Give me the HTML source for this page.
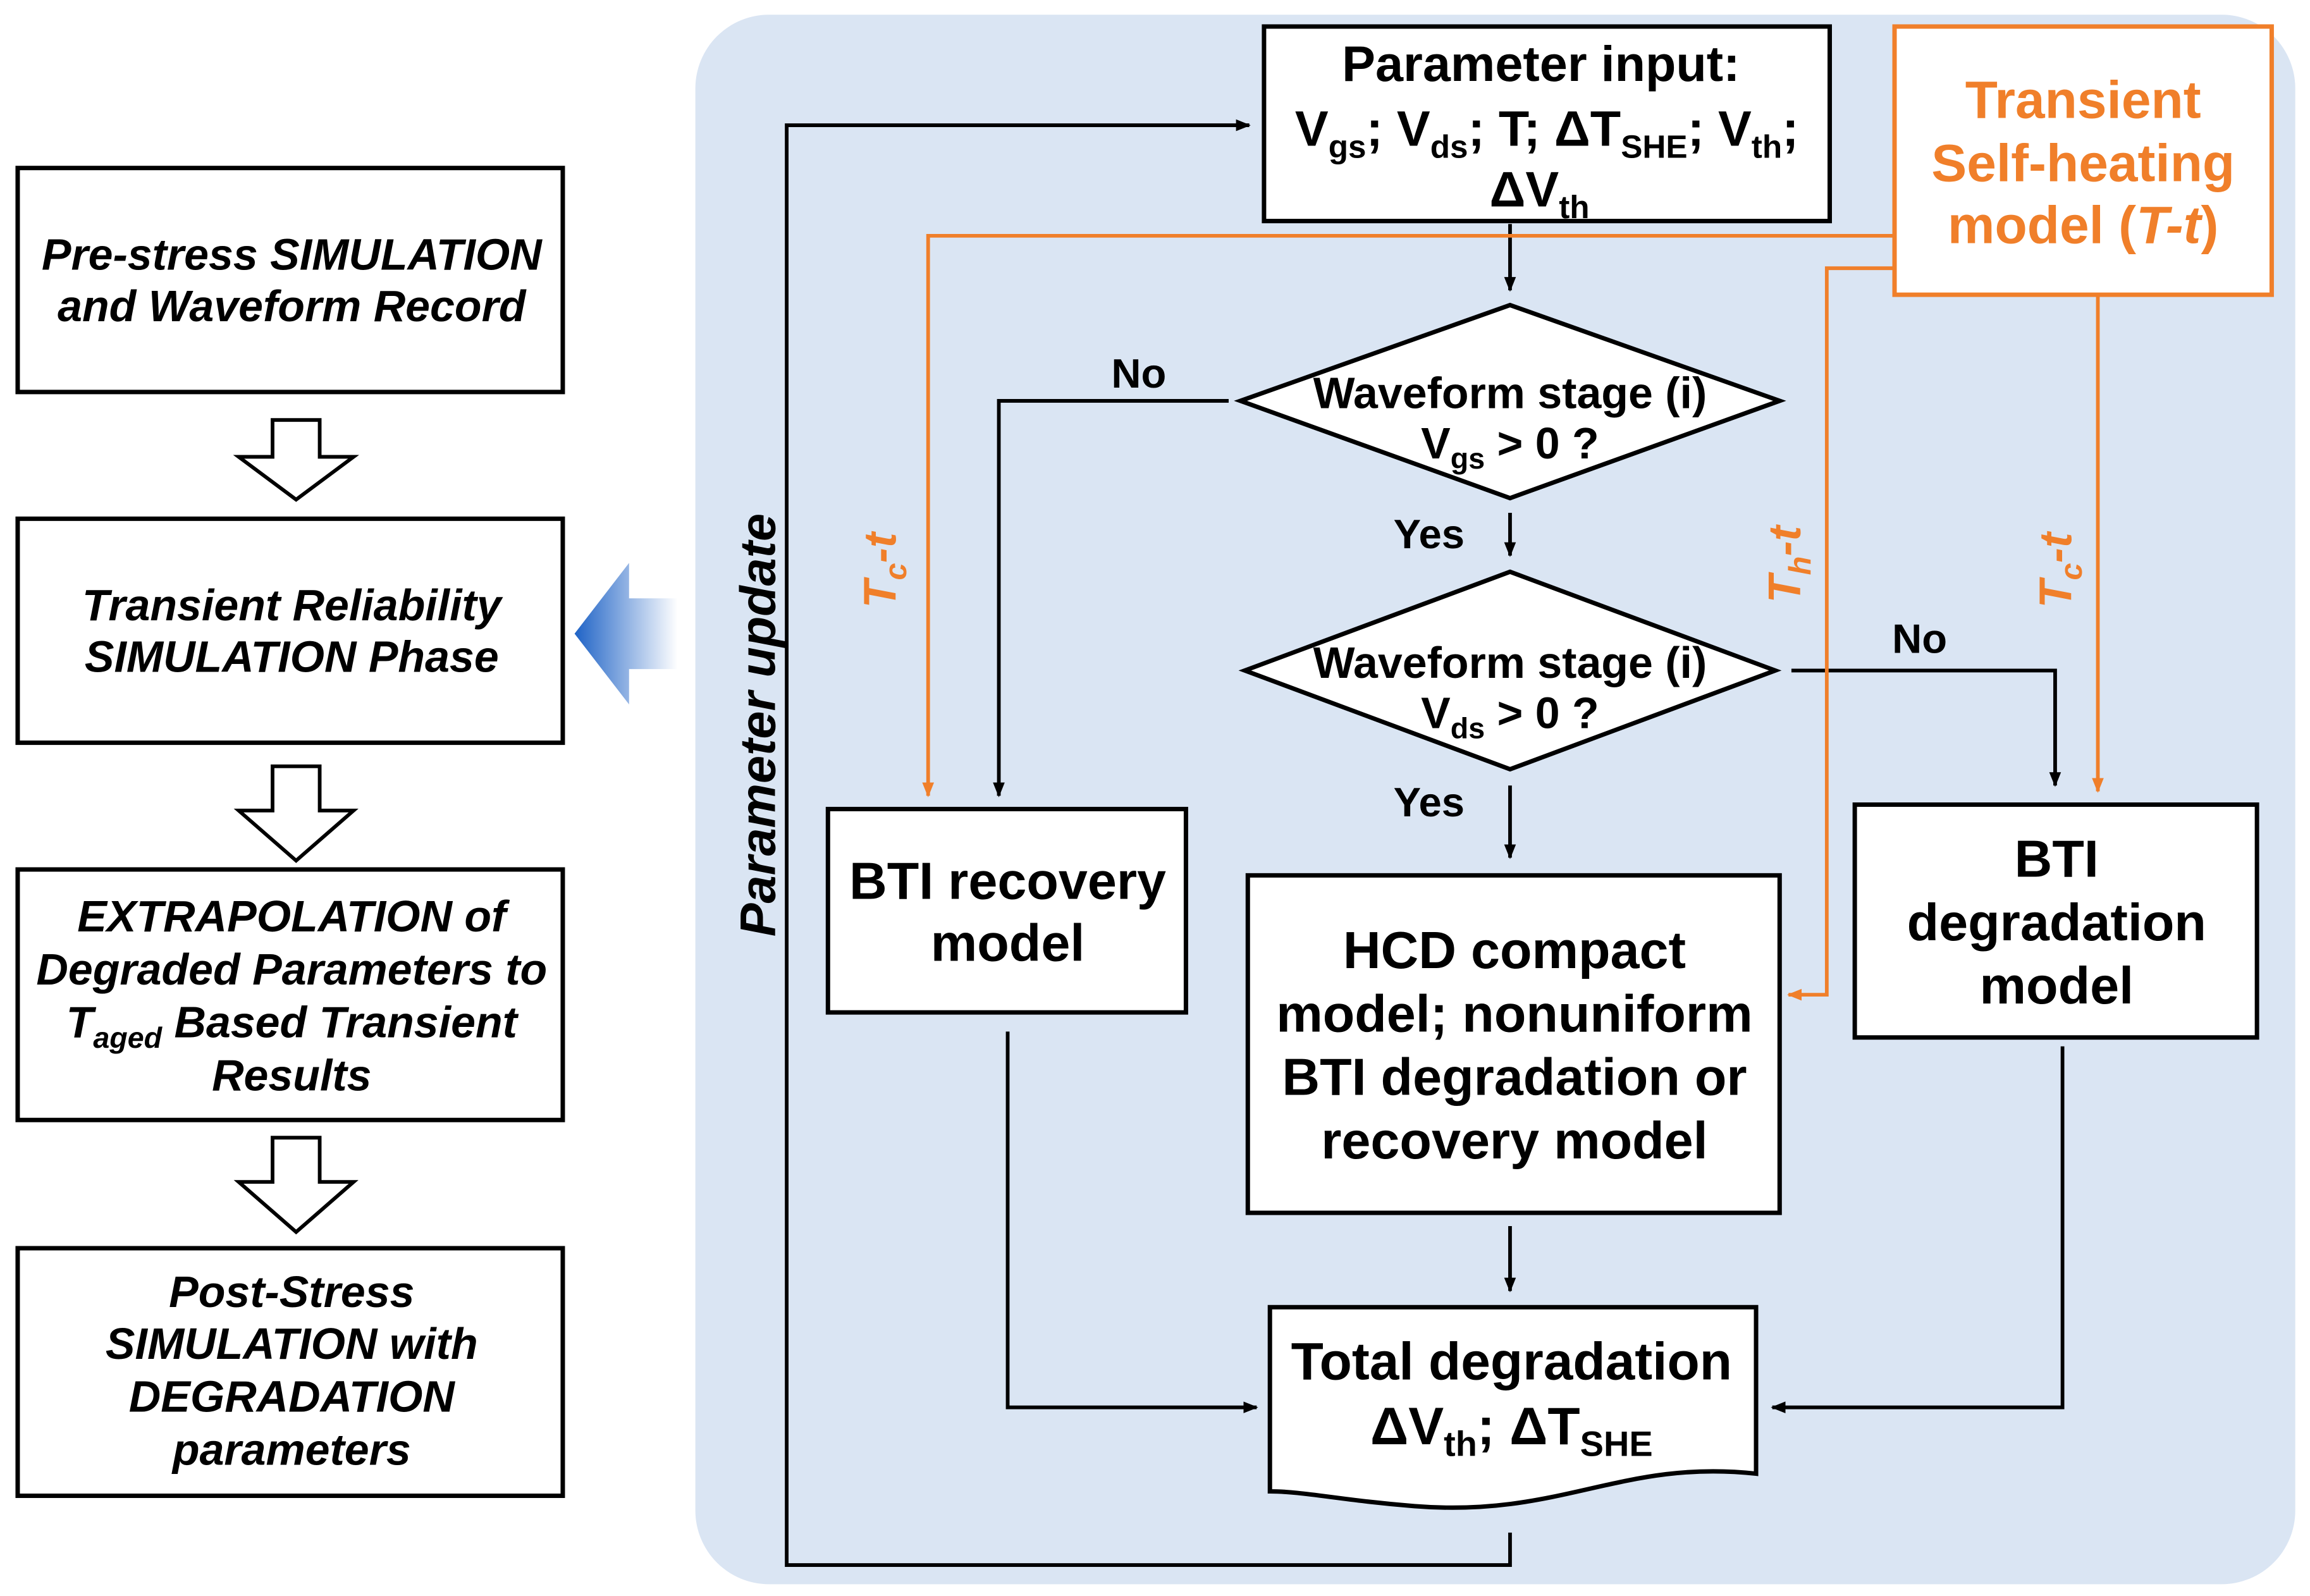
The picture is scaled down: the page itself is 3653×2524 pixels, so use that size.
<!DOCTYPE html>
<html><head><meta charset="utf-8"><style>
html,body{margin:0;padding:0;background:#fff}
svg{display:block}
text{font-family:"Liberation Sans",Arial,sans-serif;font-weight:bold}
</style></head><body>
<svg width="3653" height="2524" viewBox="0 0 1568 1083" preserveAspectRatio="none" xmlns="http://www.w3.org/2000/svg">
<defs>
<marker id="ab" markerWidth="10" markerHeight="10" refX="9" refY="5" orient="auto" markerUnits="userSpaceOnUse"><path d="M0,1 L10,5 L0,9 z" fill="#000"/></marker>
<marker id="ao" markerWidth="10" markerHeight="10" refX="9" refY="5" orient="auto" markerUnits="userSpaceOnUse"><path d="M0,1 L10,5 L0,9 z" fill="#f07f2a"/></marker>
<linearGradient id="bg" x1="0" x2="1" y1="0" y2="0"><stop offset="0" stop-color="#1f63c6"/><stop offset="1" stop-color="#ffffff"/></linearGradient>
</defs>
<g fill="#fff" stroke="#000" stroke-width="3">
<rect x="12" y="114" width="370" height="152"/>
<rect x="12" y="352" width="370" height="152"/>
<rect x="12" y="590" width="370" height="170"/>
<rect x="12" y="847" width="370" height="168"/>
</g>
<g fill="#fff" stroke="#000" stroke-width="2.5">
<path d="M185,285 H217 V310 H240 L201,339 L162,310 H185 Z"/>
<path d="M185,520 H217 V550 H240 L201,584 L162,550 H185 Z"/>
<path d="M185,772 H217 V802 H240 L201,836 L162,802 H185 Z"/>
</g>
<g font-style="italic" font-size="30" text-anchor="middle">
<text x="198" y="183">Pre-stress SIMULATION</text>
<text x="198" y="218">and Waveform Record</text>
<text x="198" y="421">Transient Reliability</text>
<text x="198" y="456">SIMULATION Phase</text>
<text x="198" y="632">EXTRAPOLATION of</text>
<text x="198" y="668">Degraded Parameters to</text>
<text x="198" y="704">T<tspan font-size="20" dy="7">aged</tspan><tspan dy="-7"> Based Transient</tspan></text>
<text x="198" y="740">Results</text>
<text x="198" y="887">Post-Stress</text>
<text x="198" y="922">SIMULATION with</text>
<text x="198" y="958">DEGRADATION</text>
<text x="198" y="994">parameters</text>
</g>
<path d="M390,430 L427,382 V406 H460 V454 H427 V478 Z" fill="url(#bg)"/>
<rect x="472" y="10" width="1086" height="1065" rx="50" fill="#dae5f3"/>
<g fill="#fff" stroke="#000" stroke-width="3">
<rect x="858" y="18" width="384" height="132"/>
<polygon points="842,272 1025,207 1208,272 1025,338"/>
<polygon points="845,455 1025,388 1205,455 1025,522"/>
<rect x="562" y="549" width="243" height="138"/>
<rect x="847" y="594" width="361" height="229"/>
<rect x="1259" y="546" width="273" height="158"/>
<path d="M862,887 H1192 V1000 C1100,990 1060,1030 960,1022 C910,1018 885,1012 862,1012 Z"/>
</g>
<rect x="1286" y="18" width="256" height="182" fill="#fff" stroke="#f07f2a" stroke-width="3"/>
<g fill="none" stroke="#000" stroke-width="2.5">
<path d="M1025,1040 V1062 H534 V85 H848" marker-end="url(#ab)"/>
<path d="M1025,152 V197" marker-end="url(#ab)"/>
<path d="M834,272 H678 V540" marker-end="url(#ab)"/>
<path d="M1025,348 V377" marker-end="url(#ab)"/>
<path d="M1216,455 H1395 V533" marker-end="url(#ab)"/>
<path d="M1025,533 V582" marker-end="url(#ab)"/>
<path d="M1025,832 V876" marker-end="url(#ab)"/>
<path d="M684,700 V955 H853" marker-end="url(#ab)"/>
<path d="M1400,710 V955 H1203" marker-end="url(#ab)"/>
</g>
<g fill="none" stroke="#f07f2a" stroke-width="2.5">
<path d="M1286,160 H630 V540" marker-end="url(#ao)"/>
<path d="M1286,182 H1240 V675 H1214" marker-end="url(#ao)"/>
<path d="M1424,200 V537" marker-end="url(#ao)"/>
</g>
<g font-size="34" text-anchor="middle">
<text x="1046" y="55">Parameter input:</text>
<text x="1050" y="99">V<tspan font-size="22" dy="8">gs</tspan><tspan dy="-8">; V</tspan><tspan font-size="22" dy="8">ds</tspan><tspan dy="-8">; T; ΔT</tspan><tspan font-size="22" dy="8">SHE</tspan><tspan dy="-8">; V</tspan><tspan font-size="22" dy="8">th</tspan><tspan dy="-8">;</tspan></text>
<text x="1045" y="140">ΔV<tspan font-size="22" dy="8">th</tspan></text>
<text x="684" y="610" font-size="35.5">BTI recovery</text>
<text x="684" y="652" font-size="35.5">model</text>
<text x="1028" y="657" font-size="35.5">HCD compact</text>
<text x="1028" y="700" font-size="35.5">model; nonuniform</text>
<text x="1028" y="743" font-size="35.5">BTI degradation or</text>
<text x="1028" y="786" font-size="35.5">recovery model</text>
<text x="1396" y="595" font-size="35.5">BTI</text>
<text x="1396" y="638" font-size="35.5">degradation</text>
<text x="1396" y="681" font-size="35.5">model</text>
<text x="1026" y="936" font-size="36">Total degradation</text>
<text x="1026" y="980" font-size="36">ΔV<tspan font-size="24" dy="8">th</tspan><tspan dy="-8">; ΔT</tspan><tspan font-size="24" dy="8">SHE</tspan></text>
</g>
<g font-size="30" text-anchor="middle">
<text x="1025" y="277">Waveform stage (i)</text>
<text x="1025" y="311">V<tspan font-size="20" dy="7">gs</tspan><tspan dy="-7"> &gt; 0 ?</tspan></text>
<text x="1025" y="460">Waveform stage (i)</text>
<text x="1025" y="494">V<tspan font-size="20" dy="7">ds</tspan><tspan dy="-7"> &gt; 0 ?</tspan></text>
<text x="773" y="263" font-size="28">No</text>
<text x="970" y="372" font-size="28">Yes</text>
<text x="1303" y="443" font-size="28">No</text>
<text x="970" y="554" font-size="28">Yes</text>
</g>
<g font-size="36" text-anchor="middle" fill="#f07f2a">
<text x="1414" y="80">Transient</text>
<text x="1414" y="123">Self-heating</text>
<text x="1414" y="165">model (<tspan font-style="italic">T-t</tspan>)</text>
</g>
<text transform="translate(526,492) rotate(-90)" font-size="34" font-style="italic" text-anchor="middle">Parameter update</text>
<g font-size="31" font-style="italic" fill="#f07f2a" text-anchor="middle">
<text transform="translate(608,387) rotate(-90)">T<tspan font-size="21" dy="7">c</tspan><tspan dy="-7">-t</tspan></text>
<text transform="translate(1222,383) rotate(-90)">T<tspan font-size="21" dy="7">h</tspan><tspan dy="-7">-t</tspan></text>
<text transform="translate(1406,387) rotate(-90)">T<tspan font-size="21" dy="7">c</tspan><tspan dy="-7">-t</tspan></text>
</g>
</svg>
</body></html>
